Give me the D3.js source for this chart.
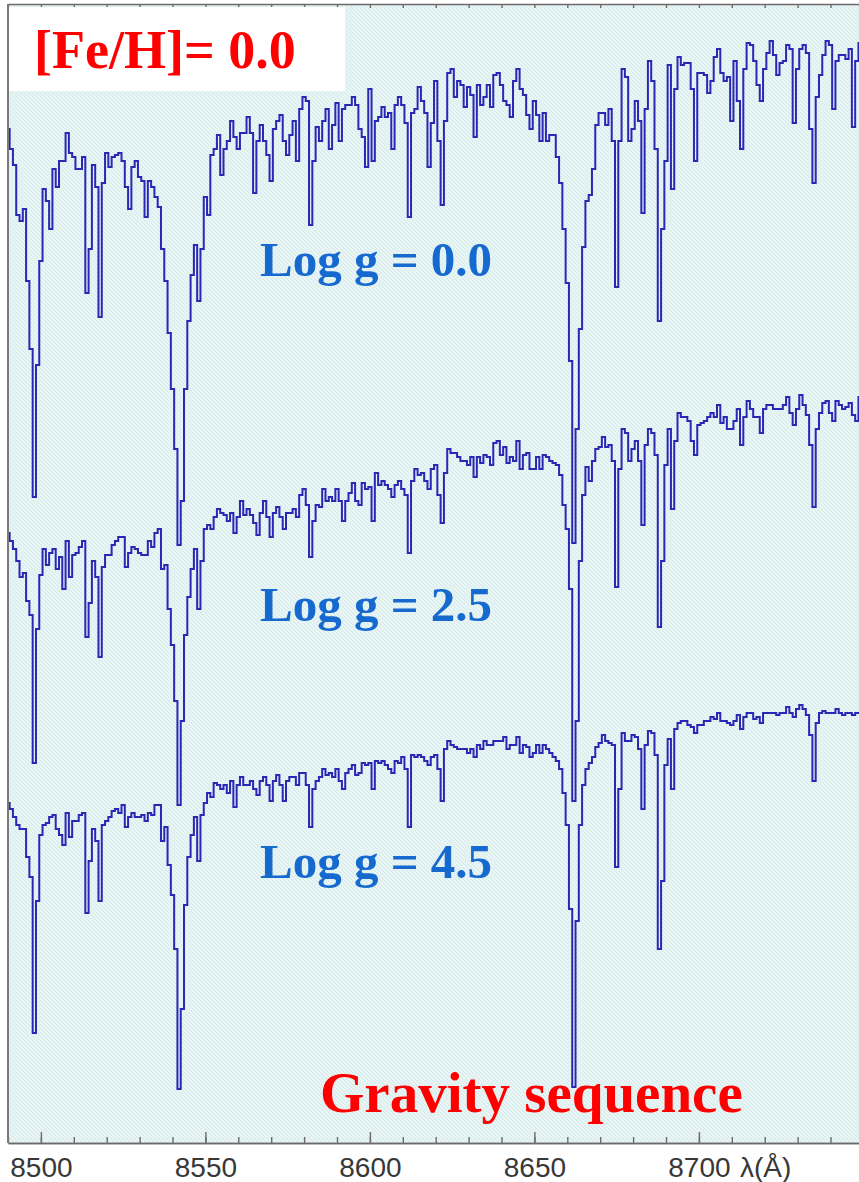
<!DOCTYPE html>
<html>
<head>
<meta charset="utf-8">
<script src="https://cdn.jsdelivr.net/npm/d3@7"></script>
<style>
  html, body { margin: 0; padding: 0; background: #fff; }
  svg { display: block; }
</style>
</head>
<body>
<div id="chart"></div>
<script>
// model grid: first sample and sampling step (Å)
const lambdaStart = 8490;
const lambdaStep = 1;

// relative flux (arbitrary units), one value per grid sample
const fluxLogg00 = [
  104, 99, 95, 82.5, 81, 84, 66, 49, 12, 45,
  71, 89, 86, 79, 94, 89.5, 96, 96, 103, 98,
  97, 94, 94, 97, 63, 74, 95, 89.5, 57, 90.5,
  98, 94.5, 97, 97.5, 98, 96, 89.5, 84, 94.5, 96,
  92, 91, 82, 91, 89.5, 87, 84.5, 74, 66, 53,
  39, 24, 0, 11, 39, 56, 67.5, 75, 61, 74,
  87, 82.5, 97.5, 99, 102.5, 92.5, 99, 101, 106, 102,
  99, 103, 103, 107, 103, 88, 101, 105, 101, 97.5,
  91, 104, 106, 107.5, 101, 97.5, 102.5, 106, 96, 109,
  112, 111, 80, 96, 104.5, 101, 106, 109, 99, 105,
  110.5, 101, 109, 110, 110, 112, 110, 104, 102, 94.5,
  114, 96, 106, 107, 109.5, 107, 108, 99, 110, 112,
  110, 105.5, 82, 108, 109, 114.5, 111, 108, 94.5, 105.5,
  116, 101, 85, 106, 118, 119, 112, 116, 115, 109.5,
  114.5, 112.5, 102, 115, 110, 112, 115, 109.5, 117.5, 118,
  115, 111, 110, 107, 116, 119, 114, 112.5, 107.5, 104,
  111, 107.5, 101, 108, 101, 102.5, 102.5, 97, 90.5, 79,
  65.5, 46, 0.5, 29, 54, 74.5, 86, 87.5, 94, 105,
  108, 108, 105, 109, 101, 64.5, 101, 119, 117, 101,
  104, 111, 106, 83, 109, 121, 116, 99, 56, 79,
  96, 120, 89, 114, 122, 120, 120.5, 120.5, 114, 96,
  118, 118, 117.5, 113, 116, 122, 124, 118, 116, 117,
  106, 121, 111, 99, 119, 125.5, 125, 121, 115, 111,
  119, 123, 126, 122.5, 117.5, 120.5, 121, 125, 124, 105.5,
  119, 124, 125, 123, 104, 90.5, 112, 117.5, 122.5, 126,
  125, 109, 121, 122.5, 122.5, 121.5, 124, 104.5, 121, 125.5
];

const fluxLogg25 = [
  68, 66, 64, 61, 57, 58, 51, 47.5, 10.5, 44,
  57.5, 64, 60, 63, 64, 59, 62, 54, 66, 57,
  62.5, 63, 64.5, 66, 42, 50.5, 61, 57, 37, 59.5,
  62.5, 62.5, 65, 66, 67, 67, 59.5, 63, 64.5, 64,
  63, 62.5, 62.5, 66, 64.5, 68, 69, 59, 60, 49,
  40, 26, 0, 21, 42.5, 52, 59, 64, 49, 61,
  69, 70, 69, 72, 74, 73, 72.5, 71, 73, 68,
  72, 76, 72.5, 74, 72.5, 70.5, 67.5, 73, 76, 72,
  67, 73, 74.5, 72, 69, 73, 73, 74, 72, 77.5,
  79, 75, 62, 71, 75, 74.5, 79, 76, 77, 76,
  79, 76, 71, 76, 78, 80.5, 76, 75, 80.5, 79,
  79.5, 71, 83, 80, 81, 80, 79, 77, 80, 81,
  79, 77.5, 63, 81, 84, 82.5, 83, 81, 79, 84,
  85, 77.5, 70.5, 83, 89, 88, 88, 87, 86, 86,
  85, 87, 82, 87, 85.5, 87.5, 87, 85, 90.5, 91,
  87.5, 89.5, 85.5, 87, 86, 91, 84, 87.5, 88, 84,
  84, 87, 84, 87.5, 87, 86, 85.5, 85, 82.5, 75,
  69, 54, 1, 21, 61, 77.5, 84.5, 81, 86, 89,
  89.5, 92, 89.5, 90, 86, 54.5, 84, 94, 93, 86,
  89, 91, 86, 70, 90, 94, 93, 87.5, 44.5, 61,
  85, 94, 74, 91, 98, 97, 97, 96, 91, 87.5,
  95, 95.5, 96, 97, 98, 97, 100, 95.5, 97, 94,
  94, 96, 99, 90, 97, 101, 99, 97, 97, 93,
  99, 100, 100, 99, 99, 99, 100, 102, 98, 95,
  99, 102.5, 100, 97.5, 90, 74.5, 94, 98, 100.5, 101,
  98, 96, 101, 100, 99, 99.5, 100.5, 97.5, 96, 102
];

const fluxLogg45 = [
  75.5, 74, 72, 70, 69, 69, 62, 57, 18, 51,
  67.5, 70, 70.5, 72, 72.5, 69, 67.5, 65, 73, 67,
  71, 71, 72.5, 73, 48, 61, 69, 66, 51, 70,
  71, 72, 73.5, 74, 73, 75, 69.5, 72, 73, 72,
  72, 72.5, 71, 73, 72.5, 75, 75, 66, 69.5, 60,
  52.5, 39, 4, 24, 50, 62, 67.5, 72, 61, 72.5,
  75.5, 78, 77, 80.5, 80, 79, 80, 78, 81, 74.5,
  80, 82, 80, 80, 81, 79, 77.5, 81, 82, 80,
  76, 81, 82.5, 80, 76, 81, 82, 82, 80, 83,
  83, 80, 69.5, 79, 81, 82, 84, 82.5, 83, 82,
  84, 81, 79, 83, 84, 85, 82.5, 83, 85.5, 85,
  85.5, 79, 86, 85.5, 86, 85, 84, 83, 86, 85.5,
  87, 84, 69.5, 87.5, 87, 87.5, 87, 86, 85, 87,
  87.5, 84, 76, 89, 91, 90, 89.5, 89, 89, 89,
  88, 89, 87, 90, 89, 91, 90, 90, 91, 91,
  91, 92, 89, 90, 90, 92, 88, 90, 89.5, 87,
  88, 90, 88, 90, 89, 88, 87, 86, 84, 78,
  70, 49, 4.5, 46, 70, 80, 84, 85.5, 87, 89.5,
  90.5, 92.5, 91, 90.5, 90, 59.5, 79, 93, 91, 91,
  92.5, 92, 89, 74, 90, 93.5, 93, 87.5, 39, 56,
  85, 91.5, 79, 94, 95.5, 96, 96, 95, 94.5, 93,
  95, 95, 96, 96, 97, 96.5, 98, 96, 96, 95.5,
  95, 96, 97.5, 94, 97, 98, 98, 96.5, 97, 95.5,
  98, 98, 98, 98, 97.5, 98, 98, 99.5, 98, 97,
  99, 100, 99, 97.5, 92.5, 81, 95.5, 98, 98.5, 98,
  98, 98, 99, 98, 97.5, 98, 98, 97.5, 98, 98
];

// vertical shift of each spectrum (same flux units)
const offsets = [140, 75, 0];
const seriesLabels = ['Log g = 0.0', 'Log g = 2.5', 'Log g = 4.5'];
const majorTicks = [8500, 8550, 8600, 8650, 8700];

const W = 859, H = 1182;
const svg = d3.select('#chart').append('svg')
  .attr('width', W)
  .attr('height', H);

const plot = { left: 8, top: 4, right: 859, bottom: 1143 };

const x = d3.scaleLinear()
  .domain([8490, 8750])
  .range([plot.left, plot.left + 260 * 3.29]);
const y = d3.scaleLinear()
  .domain([0, 275])
  .range([1105, 5]);

// background hatch
const defs = svg.append('defs');
const pat = defs.append('pattern')
  .attr('id', 'hatch')
  .attr('patternUnits', 'userSpaceOnUse')
  .attr('width', 4)
  .attr('height', 4);
pat.append('rect')
  .attr('width', 4)
  .attr('height', 4)
  .attr('fill', '#e8f5f5');
pat.append('path')
  .attr('d', 'M-1,-1L5,5M-1,3L1,5M3,-1L5,1')
  .attr('stroke', '#d5e7e9')
  .attr('stroke-width', 0.9);

defs.append('clipPath').attr('id', 'clip')
  .append('rect')
  .attr('x', plot.left)
  .attr('y', plot.top)
  .attr('width', plot.right - plot.left)
  .attr('height', plot.bottom - plot.top);

svg.append('rect')
  .attr('x', plot.left)
  .attr('y', plot.top)
  .attr('width', plot.right - plot.left)
  .attr('height', plot.bottom - plot.top)
  .attr('fill', 'url(#hatch)');

// spectra
const series = [fluxLogg00, fluxLogg25, fluxLogg45].map((flux, k) =>
  flux.map((f, i) => ({ w: lambdaStart + i * lambdaStep, f: f + offsets[k] })));

const line = d3.line()
  .x(d => x(d.w))
  .y(d => y(d.f))
  .curve(d3.curveStep);

svg.append('g')
  .attr('clip-path', 'url(#clip)')
  .selectAll('path.spec')
  .data(series).enter()
  .append('path')
  .attr('class', 'spec')
  .attr('d', line)
  .attr('fill', 'none')
  .attr('stroke', '#2828b4')
  .attr('stroke-width', 2)
  .attr('stroke-linejoin', 'miter');

// axes
const bottomMajor = d3.axisBottom(x)
  .tickValues(majorTicks)
  .tickSizeInner(-11)
  .tickSizeOuter(0)
  .tickPadding(14)
  .tickFormat(d3.format('d'));
const bottomMinor = d3.axisBottom(x)
  .tickValues(d3.range(8490, 8750, 10))
  .tickSizeInner(-6)
  .tickSizeOuter(0)
  .tickFormat('');
const topMinor = d3.axisTop(x)
  .tickValues(d3.range(8490, 8750, 10))
  .tickSizeInner(-4)
  .tickSizeOuter(0)
  .tickFormat('');

const gMinor = svg.append('g')
  .attr('transform', `translate(0,${plot.bottom})`)
  .call(bottomMinor);
const gMajor = svg.append('g')
  .attr('transform', `translate(0,${plot.bottom})`)
  .call(bottomMajor);
const gTop = svg.append('g')
  .attr('transform', `translate(0,${plot.top})`)
  .call(topMinor);

[gMinor, gMajor, gTop].forEach(g => {
  g.select('.domain').attr('stroke', '#6b6b6b').attr('stroke-width', 1.6);
  g.selectAll('.tick line').attr('stroke', '#6b6b6b').attr('stroke-width', 1.4);
});
gMajor.selectAll('.tick text')
  .attr('fill', '#383838')
  .attr('font-family', 'Liberation Sans, Arial, sans-serif')
  .attr('font-size', 28);

svg.append('text')
  .attr('x', 740)
  .attr('y', 1177)
  .attr('fill', '#383838')
  .attr('font-family', 'Liberation Sans, Arial, sans-serif')
  .attr('font-size', 28)
  .text('λ(Å)');

// left frame
svg.append('line')
  .attr('x1', plot.left).attr('x2', plot.left)
  .attr('y1', plot.top).attr('y2', plot.bottom)
  .attr('stroke', '#7a7a7a')
  .attr('stroke-width', 2);

// title box
svg.append('rect')
  .attr('x', 9)
  .attr('y', 7)
  .attr('width', 336)
  .attr('height', 84)
  .attr('fill', '#fff');

svg.append('text')
  .attr('x', 34)
  .attr('y', 68)
  .attr('fill', '#ff0000')
  .attr('font-family', 'Liberation Serif, Times New Roman, serif')
  .attr('font-weight', 'bold')
  .attr('font-size', 54)
  .text('[Fe/H]= 0.0');

// series labels
const labelY = [276, 621, 878];
svg.selectAll('text.logg')
  .data(seriesLabels).enter()
  .append('text')
  .attr('class', 'logg')
  .attr('x', 260)
  .attr('y', (d, i) => labelY[i])
  .attr('fill', '#1569cf')
  .attr('font-family', 'Liberation Serif, Times New Roman, serif')
  .attr('font-weight', 'bold')
  .attr('font-size', 49)
  .text(d => d);

svg.append('text')
  .attr('x', 320)
  .attr('y', 1112)
  .attr('fill', '#ff0000')
  .attr('font-family', 'Liberation Serif, Times New Roman, serif')
  .attr('font-weight', 'bold')
  .attr('font-size', 57)
  .text('Gravity sequence');
</script>
</body>
</html>
